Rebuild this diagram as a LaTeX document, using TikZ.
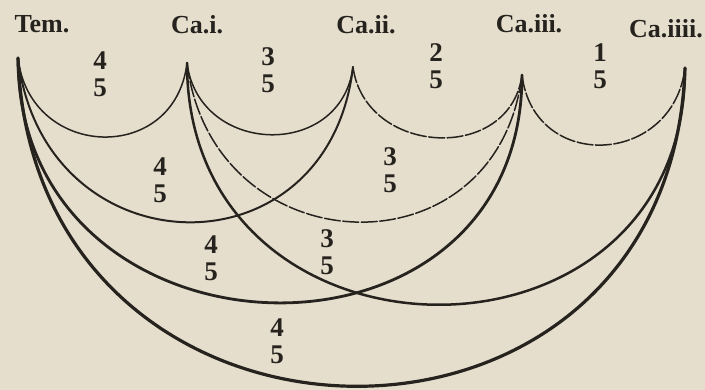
\documentclass[tikz,border=0pt]{standalone}
\usepackage{fontspec}
\setmainfont{Liberation Serif}
\usepackage{xcolor}
\definecolor{paper}{RGB}{229,222,205}
\definecolor{ink}{RGB}{38,35,31}

\begin{document}
\begin{tikzpicture}[
    x=1pt, y=-1pt,
    colname/.style={
        font=\fontsize{26}{26}\selectfont\bfseries,
        text=ink, inner sep=0pt
    },
    ratio/.style={
        font=\fontsize{27}{27}\selectfont\bfseries,
        text=ink, align=center, inner sep=0pt
    },
    arcline/.style={
        draw=ink, line width=1.5pt, line cap=round
    },
    worn/.style={
        arcline, dash pattern=on 16pt off 2.5pt
    },
    heavy/.style={
        draw=ink, line width=2.8pt, line cap=round
    }
]

\useasboundingbox (0,0) rectangle (705,390);
\fill[paper] (0,0) rectangle (705,390);

% column heads
\node[colname] (lTem)  at (42,24)  {Tem.};
\node[colname] (lCa1)  at (197,25) {Ca.i.};
\node[colname] (lCa2)  at (366,25) {Ca.ii.};
\node[colname] (lCa3)  at (529,24) {Ca.iii.};
\node[colname] (lCa4)  at (666,29) {Ca.iiii.};

% cusps where the arcs meet
\coordinate (tem) at (18,58);
\coordinate (ca1) at (187,63);
\coordinate (ca2) at (353,67);
\coordinate (ca3) at (522,75);
\coordinate (ca4) at (685,68);

% one step
\draw[arcline] (tem) .. controls +(12,102) and +(-12,102) .. (ca1);
\draw[arcline] (ca1) .. controls +(12,93) and +(-12,93) .. (ca2);
\draw[worn]    (ca2) .. controls +(12,89) and +(-12,89) .. (ca3);
\draw[worn]    (ca3) .. controls +(12,98) and +(-12,98) .. (ca4);

% two steps
\draw[arcline, line width=2pt] (tem) .. controls +(25,213) and +(-25,213) .. (ca2);
\draw[worn] (ca1) .. controls +(25,204) and +(-25,204) .. (ca3);

% three and four steps
\draw[heavy] (tem) .. controls +(0,315) and +(0,315) .. (ca3);
\draw[heavy, line width=2.5pt] (ca1) .. controls +(0,319) and +(0,319) .. (ca4);
\draw[heavy, line width=3.2pt] (tem) .. controls +(15,431) and +(-15,431) .. (ca4);

\node[ratio] (r1) at (100,74)  {4\\5};
\node[ratio] (r2) at (268,70)  {3\\5};
\node[ratio] (r3) at (436,66)  {2\\5};
\node[ratio] (r4) at (600,66)  {1\\5};
\node[ratio] (r5) at (160,180) {4\\5};
\node[ratio] (r6) at (390,170) {3\\5};
\node[ratio] (r7) at (211,258) {4\\5};
\node[ratio] (r8) at (327,252) {3\\5};
\node[ratio] (r9) at (277,341) {4\\5};

\end{tikzpicture}
\end{document}
